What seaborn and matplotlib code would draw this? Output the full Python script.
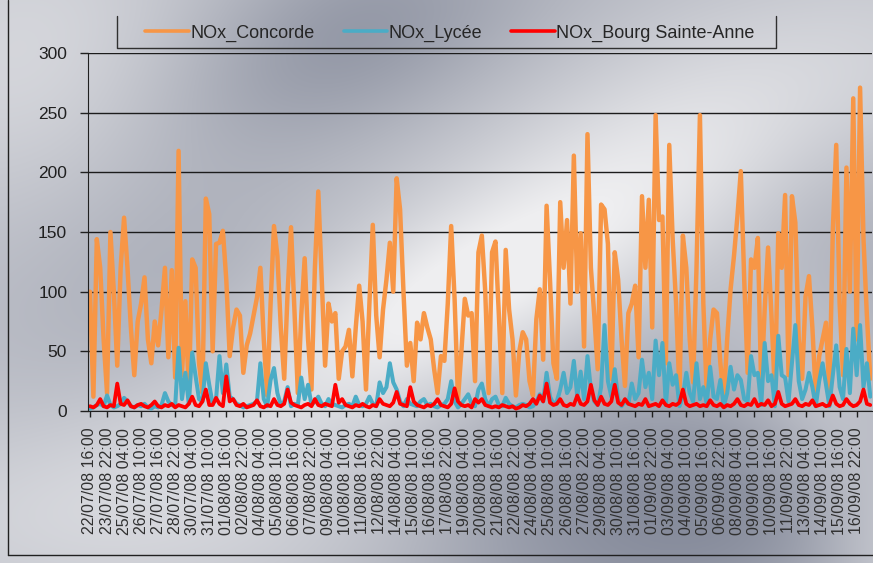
import numpy as np
import pandas as pd
import matplotlib
matplotlib.use("Agg")
import matplotlib.pyplot as plt
import seaborn as sns

# ---- data: one value every 6 hours ----
start = "22/07/08 16:00"
step_hours = 6

concorde = [100, 12, 144, 120, 60, 15, 150, 100, 38, 120,
            162, 120, 70, 30, 75, 90, 112, 60, 40, 75,
            55, 85, 120, 45, 118, 28, 218, 30, 92, 12,
            127, 120, 40, 15, 178, 165, 50, 140, 141, 151,
            110, 46, 70, 85, 80, 32, 55, 65, 80, 95,
            120, 60, 13, 90, 155, 130, 70, 27, 100, 154,
            85, 15, 80, 128, 60, 18, 120, 184, 110, 38,
            90, 75, 82, 27, 50, 54, 68, 29, 70, 105,
            75, 18, 90, 156, 80, 45, 85, 110, 141, 100,
            195, 169, 100, 38, 57, 25, 74, 60, 82, 70,
            60, 35, 15, 46, 42, 90, 155, 94, 10, 50,
            94, 80, 82, 25, 133, 147, 100, 15, 133, 142,
            80, 15, 135, 85, 60, 13, 50, 66, 60, 25,
            13, 77, 102, 43, 172, 110, 40, 27, 175, 120,
            160, 90, 214, 100, 149, 54, 232, 120, 80, 35,
            173, 169, 140, 27, 133, 110, 60, 21, 82, 90,
            105, 45, 180, 120, 177, 70, 248, 160, 163, 40,
            223, 144, 90, 15, 147, 120, 60, 24, 120, 248,
            90, 15, 60, 85, 82, 40, 10, 60, 102, 130,
            163, 201, 110, 32, 127, 120, 145, 18, 85, 137,
            80, 15, 149, 120, 181, 30, 180, 158, 60, 27,
            96, 113, 70, 13, 46, 60, 74, 13, 151, 223,
            90, 30, 204, 100, 262, 60, 271, 144, 80, 27]

lycee = [2, 3, 5, 6, 4, 13, 5, 3, 4, 6,
         11, 8, 4, 3, 5, 4, 6, 3, 2, 4,
         3, 5, 15, 8, 5, 4, 53, 10, 32, 6,
         49, 29, 10, 8, 40, 22, 6, 10, 46, 15,
         39, 12, 10, 6, 5, 3, 4, 5, 6, 8,
         40, 10, 4, 26, 36, 15, 5, 8, 20, 4,
         6, 5, 28, 10, 22, 5, 8, 12, 6, 4,
         10, 6, 5, 4, 3, 5, 6, 4, 12, 5,
         4, 6, 12, 6, 4, 24, 15, 20, 40, 24,
         18, 8, 4, 10, 6, 5, 4, 8, 10, 5,
         6, 4, 3, 5, 6, 10, 25, 8, 3, 6,
         10, 14, 6, 4, 18, 23, 10, 4, 10, 12,
         5, 4, 11, 6, 4, 3, 5, 6, 5, 3,
         4, 8, 14, 8, 32, 12, 6, 8, 18, 32,
         15, 20, 42, 12, 33, 10, 46, 18, 8, 5,
         20, 72, 25, 12, 35, 10, 4, 8, 6, 23,
         10, 15, 43, 20, 32, 10, 59, 30, 57, 5,
         40, 22, 30, 4, 12, 32, 15, 8, 40, 10,
         20, 6, 37, 12, 10, 26, 4, 15, 37, 18,
         30, 26, 10, 8, 46, 30, 32, 5, 57, 25,
         30, 4, 63, 30, 28, 8, 40, 72, 25, 10,
         18, 32, 20, 4, 25, 40, 22, 4, 30, 55,
         20, 10, 52, 15, 69, 30, 72, 20, 40, 12]

bourg = [4, 3, 5, 10, 4, 3, 5, 4, 23, 6,
         5, 9, 4, 3, 5, 6, 4, 3, 5, 8,
         4, 3, 5, 4, 6, 3, 5, 4, 3, 6,
         12, 5, 4, 8, 18, 5, 5, 11, 6, 4,
         29, 8, 10, 5, 4, 6, 3, 4, 5, 9,
         4, 3, 5, 4, 10, 5, 4, 6, 18, 7,
         5, 4, 3, 5, 6, 4, 10, 5, 4, 6,
         5, 4, 22, 7, 10, 5, 4, 3, 5, 4,
         6, 4, 3, 5, 4, 10, 6, 5, 4, 7,
         16, 6, 5, 4, 20, 8, 5, 4, 3, 5,
         4, 6, 10, 5, 4, 3, 6, 19, 8, 5,
         4, 5, 3, 10, 7, 10, 5, 4, 3, 4,
         3, 5, 4, 3, 4, 2, 3, 5, 4, 6,
         10, 6, 13, 8, 23, 7, 5, 6, 10, 5,
         4, 6, 5, 13, 6, 5, 8, 22, 9, 5,
         12, 6, 5, 8, 22, 7, 5, 10, 6, 5,
         4, 6, 5, 10, 4, 5, 6, 4, 9, 5,
         4, 6, 5, 7, 18, 6, 4, 5, 6, 4,
         5, 4, 9, 5, 4, 6, 3, 5, 4, 6,
         10, 5, 4, 6, 5, 10, 4, 6, 5, 9,
         4, 6, 16, 6, 4, 5, 6, 10, 5, 4,
         6, 5, 9, 4, 5, 6, 4, 5, 13, 6,
         4, 5, 10, 6, 4, 5, 8, 18, 6, 5]

tick_labels = ["22/07/08 16:00", "23/07/08 22:00", "25/07/08 04:00", "26/07/08 10:00",
               "27/07/08 16:00", "28/07/08 22:00", "30/07/08 04:00", "31/07/08 10:00",
               "01/08/08 16:00", "02/08/08 22:00", "04/08/08 04:00", "05/08/08 10:00",
               "06/08/08 16:00", "07/08/08 22:00", "09/08/08 04:00", "10/08/08 10:00",
               "11/08/08 16:00", "12/08/08 22:00", "14/08/08 04:00", "15/08/08 10:00",
               "16/08/08 16:00", "17/08/08 22:00", "19/08/08 04:00", "20/08/08 10:00",
               "21/08/08 16:00", "22/08/08 22:00", "24/08/08 04:00", "25/08/08 10:00",
               "26/08/08 16:00", "27/08/08 22:00", "29/08/08 04:00", "30/08/08 10:00",
               "31/08/08 16:00", "01/09/08 22:00", "03/09/08 04:00", "04/09/08 10:00",
               "05/09/08 16:00", "06/09/08 22:00", "08/09/08 04:00", "09/09/08 10:00",
               "10/09/08 16:00", "11/09/08 22:00", "13/09/08 04:00", "14/09/08 10:00",
               "15/09/08 16:00", "16/09/08 22:00"]

series_names = ["NOx_Concorde", "NOx_Lycée", "NOx_Bourg Sainte-Anne"]
colors = ["#F79646", "#4BACC6", "#FF0000"]
widths = [3.2, 2.9, 2.7]

# ---- table for seaborn ----
fmt = "%d/%m/%y %H:%M"
t0 = pd.to_datetime(start, format=fmt)
n = len(concorde)
hours = np.arange(n) * step_hours
df = pd.DataFrame({
    "hour": np.tile(hours, 3),
    "value": concorde + lycee + bourg,
    "station": np.repeat(series_names, n),
})
tick_pos = (pd.to_datetime(tick_labels, format=fmt) - t0) / pd.Timedelta(hours=1)

sns.set_style("white")
plt.rcParams["font.family"] = ["Liberation Sans", "DejaVu Sans"]

W, H = 873, 563
fig = plt.figure(figsize=(W / 100, H / 100), dpi=100)


def metal_background(w, h):
    # brushed-metal look: grey base with light and dark diagonal smudges
    yy, xx = np.mgrid[0:h, 0:w].astype(float)
    L = np.full((h, w), 0.55)
    blobs = [  # cx, cy, sx, sy, angle, amplitude
        (450, 300, 190, 60, -25, 0.45),
        (720, 110, 220, 80, -20, 0.28),
        (40, 60, 150, 120, 0, 0.25),
        (870, 480, 60, 140, -30, 0.35),
        (120, 520, 240, 80, 0, 0.22),
        (340, 40, 140, 70, -20, -0.32),
        (170, 260, 110, 90, -20, -0.12),
        (720, 520, 200, 80, -15, -0.4),
        (560, 470, 110, 60, -20, -0.15),
        (820, 270, 90, 120, 0, -0.1),
    ]
    for cx, cy, sx, sy, ang, amp in blobs:
        a = np.deg2rad(ang)
        dx, dy = xx - cx, yy - cy
        u = dx * np.cos(a) + dy * np.sin(a)
        v = -dx * np.sin(a) + dy * np.cos(a)
        L += amp * np.exp(-0.5 * ((u / sx) ** 2 + (v / sy) ** 2))
    L = np.clip(L, 0, 1)[..., None]
    dark = np.array([118, 124, 142]) / 255
    light = np.array([238, 238, 240]) / 255
    return dark + L * (light - dark)


bg = fig.add_axes([0, 0, 1, 1], zorder=-1)
bg.imshow(metal_background(W, H), aspect="auto", extent=(0, W, H, 0))
bg.set_xlim(0, W)
bg.set_ylim(H, 0)
bg.axis("off")
# outer chart frame (left and bottom edges visible in the reference)
bg.plot([8, 8], [0, 555], color="#202020", lw=1)
bg.plot([8, W], [555, 555], color="#202020", lw=1)
# legend frame
bg.plot([117, 117, 776, 776], [16, 48, 48, 16], color="#303030", lw=1)

ax = fig.add_axes([88 / W, 1 - 411 / H, (872 - 88) / W, (411 - 53) / H])
ax.set_facecolor("none")

sns.lineplot(data=df, x="hour", y="value", hue="station", hue_order=series_names,
             palette=colors, size="station", sizes=dict(zip(series_names, widths)),
             estimator=None, ax=ax)

ax.set_xlim(-3.5, 1377)
ax.set_ylim(0, 300)
ax.set_yticks(range(0, 301, 50))
ax.set_xticks(tick_pos)
ax.set_xticklabels(tick_labels, rotation=90, fontsize=11.5, color="#303030")
ax.tick_params(axis="y", labelsize=12.5, labelcolor="#202020", length=6,
               width=1, color="#202020", pad=9, left=True, direction="out")
ax.tick_params(axis="x", length=4, width=1, color="#202020", pad=8, bottom=True)
ax.set_xlabel("")
ax.set_ylabel("")
ax.yaxis.grid(True, color="#1c1c1c", linewidth=1)
ax.set_axisbelow(True)
for side in ["top", "right"]:
    ax.spines[side].set_visible(False)
ax.spines["left"].set_color("#202020")
ax.spines["bottom"].set_color("#202020")

sns.move_legend(ax, "center", bbox_to_anchor=(450 / W, 1 - 33 / H),
                bbox_transform=fig.transFigure, ncol=3, frameon=False, title=None,
                fontsize=13, handlelength=2.4, handletextpad=0.1, columnspacing=1.6)
for line in ax.get_legend().get_lines():
    line.set_linewidth(2.6)

fig.savefig("out.png", dpi=100)
